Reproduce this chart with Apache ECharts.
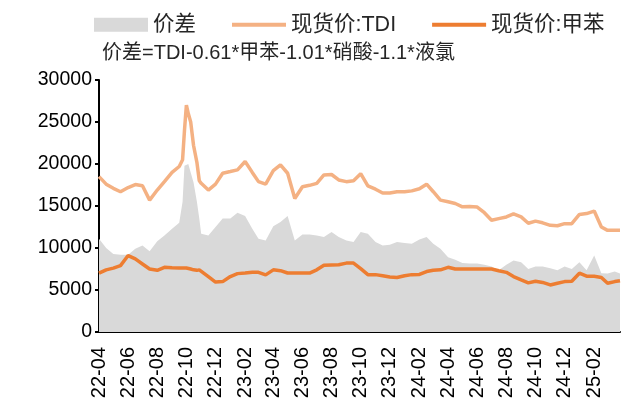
<!DOCTYPE html>
<html>
<head>
<meta charset="utf-8">
<script src="https://cdn.jsdelivr.net/npm/echarts@6/dist/echarts.min.js"></script>
<style>
  html, body { margin: 0; padding: 0; background: #fff; }
  #main { width: 630px; height: 408px; }
</style>
</head>
<body>
<div id="main"></div>
<script>
var dates = [
    '2022-04-01', '2022-04-16', '2022-05-01', '2022-05-16', '2022-06-01', '2022-06-16',
    '2022-07-01', '2022-07-16', '2022-08-01', '2022-08-16', '2022-09-01', '2022-09-16',
    '2022-09-23', '2022-09-27', '2022-10-01', '2022-10-05', '2022-10-10', '2022-10-16',
    '2022-10-23', '2022-10-28',
    '2022-11-01', '2022-11-16', '2022-12-01', '2022-12-16',
    '2023-01-01', '2023-01-16', '2023-02-01', '2023-02-16', '2023-03-01', '2023-03-16',
    '2023-04-01', '2023-04-16', '2023-05-01', '2023-05-16', '2023-06-01', '2023-06-16',
    '2023-07-01', '2023-07-16', '2023-08-01', '2023-08-16', '2023-09-01', '2023-09-16',
    '2023-10-01', '2023-10-16', '2023-11-01', '2023-11-16', '2023-12-01', '2023-12-16',
    '2024-01-01', '2024-01-16', '2024-02-01', '2024-02-16', '2024-03-01', '2024-03-16',
    '2024-04-01', '2024-04-16', '2024-05-01', '2024-05-16', '2024-06-01', '2024-06-16',
    '2024-07-01', '2024-07-16', '2024-08-01', '2024-08-16', '2024-09-01', '2024-09-16',
    '2024-10-01', '2024-10-16', '2024-11-01', '2024-11-16', '2024-12-01', '2024-12-16',
    '2025-01-01', '2025-01-16', '2025-02-01', '2025-02-16', '2025-03-01', '2025-03-16',
    '2025-03-27'
];
var tdi = [
    18500, 17600, 17100, 16700, 17200, 17550,
    17400, 15700, 16900, 17900, 19000, 19700,
    20500, 24000, 27000, 26000, 25000, 22200,
    20200, 18000,
    17700, 16900, 17600, 18900,
    19100, 19300, 20300, 19000, 17900, 17600,
    19200, 19900, 18900, 15900, 17300, 17460,
    17700, 18700, 18750, 18100, 17900, 18000,
    18850, 17400, 17000, 16550, 16550, 16700,
    16700, 16800, 17050, 17600, 16700, 15700,
    15500, 15300, 14900, 14950, 14880, 14200,
    13300, 13500, 13700, 14050, 13700, 12950,
    13200, 13000, 12700, 12650, 12900, 12900,
    14000, 14100, 14400, 12500, 12100, 12100,
    12100
];
var toluene = [
    7000, 7400, 7600, 7900, 9100, 8700,
    8100, 7500, 7350, 7700, 7650, 7620,
    7620, 7620, 7620, 7550, 7500, 7400,
    7340, 7400,
    7460, 6600, 5950, 6000,
    6600, 6950, 7020, 7100, 7100, 6800,
    7400, 7300, 7020, 7020, 7020, 7020,
    7400, 7950, 7980, 8000, 8200, 8210,
    7550, 6830, 6830, 6700, 6550, 6480,
    6700, 6830, 6850, 7200, 7340, 7400,
    7700, 7500, 7500, 7500, 7500, 7500,
    7500, 7300, 7100, 6600, 6200, 5850,
    6050, 5900, 5600, 5800, 6000, 6050,
    7000, 6650, 6630, 6500, 5800, 6000,
    6100
];
var spread = [
    11100, 10000, 9300, 9200, 9200, 9900,
    10300, 9600, 10800, 11500, 12300, 13000,
    15500, 19800, 20000, 20000, 19000, 17800,
    15500, 13500,
    11700, 11500, 12500, 13500,
    13500, 14200, 13800, 12300, 11100, 10900,
    12600, 13100, 13800, 10900, 11600, 11600,
    11500, 11300, 11900, 11300, 10900, 10700,
    11900, 11700, 10700, 10300, 10400, 10700,
    10600, 10500, 11000, 11300, 10500, 9900,
    8900, 8600, 8200, 8150, 8140, 8000,
    7800, 7340, 8000, 8500, 8300, 7500,
    7800, 7800, 7600, 7340, 7800, 7500,
    8300, 7340, 9100, 7000, 6950, 7200,
    6950
];
var tickDates = [
    '2022-04-01', '2022-06-01', '2022-08-01', '2022-10-01', '2022-12-01',
    '2023-02-01', '2023-04-01', '2023-06-01', '2023-08-01', '2023-10-01', '2023-12-01',
    '2024-02-01', '2024-04-01', '2024-06-01', '2024-08-01', '2024-10-01', '2024-12-01',
    '2025-02-01'
];
var seriesNames = ['价差', '现货价:TDI', '现货价:甲苯'];
var formulaText = '价差=TDI-0.61*甲苯-1.01*硝酸-1.1*液氯';

function toTime(d) {
    return Date.UTC(+d.slice(0, 4), +d.slice(5, 7) - 1, +d.slice(8, 10));
}
function pairs(vals) {
    return dates.map(function (d, i) { return [toTime(d), vals[i]]; });
}
var tickTimes = tickDates.map(toTime);

var font = 'Liberation Sans, Arial, Noto Sans CJK SC, sans-serif';

var option = {
    animation: false,
    title: {
        text: formulaText,
        left: 97,
        top: 38,
        textStyle: { fontSize: 20, fontWeight: 'normal', color: '#262626', fontFamily: font }
    },
    legend: {
        left: 89,
        top: 9,
        itemWidth: 54,
        itemHeight: 14,
        itemGap: 34,
        textStyle: { fontSize: 21.5, color: '#262626', fontFamily: font },
        data: [
            { name: seriesNames[0], icon: 'rect' },
            { name: seriesNames[1], itemStyle: { opacity: 0 }, lineStyle: { width: 4 } },
            { name: seriesNames[2], itemStyle: { opacity: 0 }, lineStyle: { width: 4 } }
        ]
    },
    grid: {
        left: 99,
        right: 10,
        top: 80,
        bottom: 76
    },
    xAxis: {
        type: 'value',
        min: toTime('2022-04-01'),
        max: toTime('2025-03-27'),
        splitLine: { show: false },
        axisLine: { lineStyle: { color: '#000', width: 2 } },
        axisTick: {
            show: true,
            inside: true,
            length: 5,
            lineStyle: { color: '#000', width: 2 },
            customValues: tickTimes
        },
        axisLabel: {
            rotate: 90,
            fontSize: 20,
            color: '#000',
            fontFamily: font,
            margin: 15,
            customValues: tickTimes,
            formatter: function (val) {
                var d = new Date(val);
                var y = String(d.getUTCFullYear()).slice(2);
                var m = d.getUTCMonth() + 1;
                return y + '-' + (m < 10 ? '0' + m : m);
            }
        }
    },
    yAxis: {
        type: 'value',
        min: 0,
        max: 30000,
        interval: 5000,
        splitLine: { show: false },
        axisLine: { show: true, lineStyle: { color: '#000', width: 2 } },
        axisTick: { show: true, length: 4, lineStyle: { color: '#000', width: 2 } },
        axisLabel: {
            fontSize: 19.5,
            color: '#000',
            fontFamily: font,
            margin: 7,
            formatter: function (v) { return String(v); }
        }
    },
    series: [
        {
            name: seriesNames[0],
            type: 'line',
            symbol: 'none',
            color: '#d9d9d9',
            lineStyle: { width: 0, color: '#d9d9d9' },
            areaStyle: { color: '#d9d9d9', opacity: 1 },
            itemStyle: { color: '#d9d9d9' },
            data: pairs(spread),
            z: 1
        },
        {
            name: seriesNames[1],
            type: 'line',
            symbol: 'none',
            color: '#f4b183',
            lineStyle: { width: 3.5, color: '#f4b183' },
            data: pairs(tdi),
            z: 2
        },
        {
            name: seriesNames[2],
            type: 'line',
            symbol: 'none',
            color: '#ed7d31',
            lineStyle: { width: 3.5, color: '#ed7d31' },
            data: pairs(toluene),
            z: 3
        }
    ]
};

var chart = echarts.init(document.getElementById('main'));
chart.setOption(option);
</script>
</body>
</html>
